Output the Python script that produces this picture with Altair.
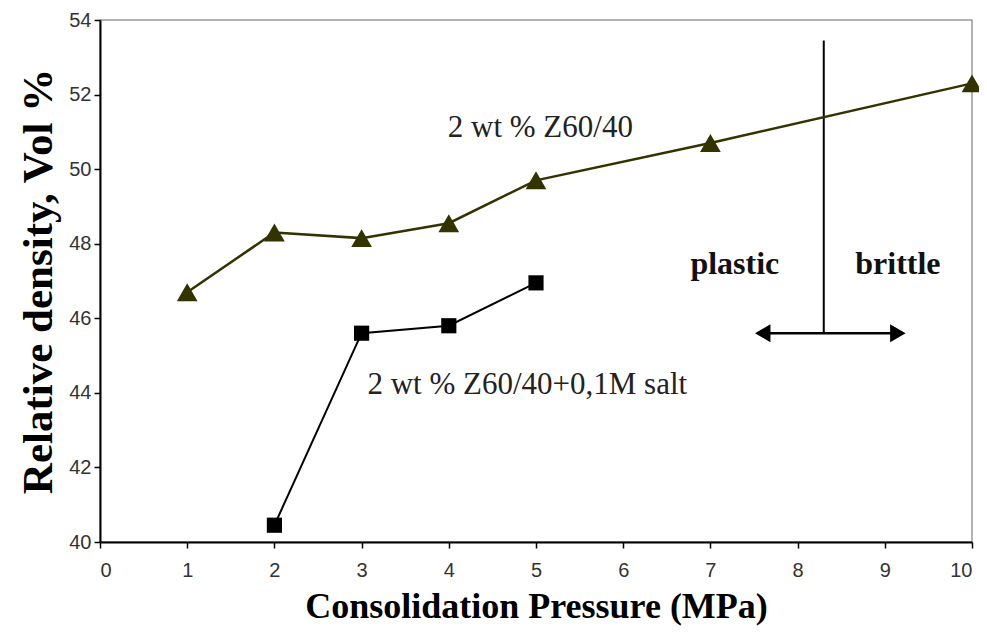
import altair as alt
import pandas as pd

# Data
pressure_z = [1, 2, 3, 4, 5, 7, 10]
density_z = [46.7, 48.3, 48.15, 48.55, 49.7, 50.7, 52.3]
pressure_salt = [2, 3, 4, 5]
density_salt = [40.45, 45.6, 45.8, 46.95]

label_text = ["2 wt % Z60/40", "2 wt % Z60/40+0,1M salt"]
label_x = [5.05, 4.9]
label_y = [51.1, 44.2]

region_text = ["plastic", "brittle"]
region_x = [7.28, 9.15]
region_y = [47.45, 47.45]

divider_x = 8.3
divider_top = 53.45
arrow_y = 45.6
arrow_left = 7.5
arrow_right = 9.25

df_z = pd.DataFrame({"x": pressure_z, "y": density_z})
df_s = pd.DataFrame({"x": pressure_salt, "y": density_salt})
df_lab = pd.DataFrame({"x": label_x, "y": label_y, "t": label_text})
df_reg = pd.DataFrame({"x": region_x, "y": region_y, "t": region_text})
df_div = pd.DataFrame({"x": [divider_x], "y": [arrow_y], "y2": [divider_top]})
df_arr = pd.DataFrame({"x": [arrow_left + 0.05], "x2": [arrow_right - 0.05], "y": [arrow_y]})
df_heads = pd.DataFrame({"x": [arrow_left + 0.1, arrow_right - 0.1], "y": [arrow_y, arrow_y],
                         "s": ["triangle-left", "triangle-right"]})

xs = alt.Scale(domain=[0, 10], nice=False, zero=False)
ys = alt.Scale(domain=[40, 54], nice=False, zero=False)

X = alt.X("x:Q", scale=xs, axis=alt.Axis(
    title="Consolidation Pressure (MPa)", values=list(range(0, 11)), format="d",
    grid=False, domainColor="black", domainWidth=2, tickColor="black", tickSize=6, tickWidth=1.5,
    labelFont="Liberation Sans", labelFontSize=20, labelColor="#333333", labelPadding=12,
    titleFont="Liberation Serif", titleFontSize=36, titleFontWeight="bold", titleColor="black",
    titlePadding=9))
Y = alt.Y("y:Q", scale=ys, axis=alt.Axis(
    title="Relative density, Vol %", values=list(range(40, 55, 2)),
    grid=False, domainColor="black", domainWidth=2, tickColor="black", tickSize=6, tickWidth=1.5,
    labelFont="Liberation Sans", labelFontSize=20, labelColor="#333333", labelPadding=3,
    titleFont="Liberation Serif", titleFontSize=43, titleFontWeight="bold", titleColor="black",
    titlePadding=8))

olive = "#333300"

line_z = alt.Chart(df_z).mark_line(color=olive, strokeWidth=2.5).encode(x=X, y=Y)
pts_z = alt.Chart(df_z).mark_point(shape="triangle-up", filled=True, color=olive, size=430, opacity=1).encode(x="x:Q", y="y:Q")
line_s = alt.Chart(df_s).mark_line(color="black", strokeWidth=2).encode(x="x:Q", y="y:Q")
pts_s = alt.Chart(df_s).mark_point(shape="square", filled=True, color="black", size=230, opacity=1).encode(x="x:Q", y="y:Q")

labels = alt.Chart(df_lab).mark_text(font="Liberation Serif", fontSize=31, color="#222222").encode(
    x="x:Q", y="y:Q", text="t:N")
regions = alt.Chart(df_reg).mark_text(font="Liberation Serif", fontSize=32, fontWeight="bold", color="#111111").encode(
    x="x:Q", y="y:Q", text="t:N")

divider = alt.Chart(df_div).mark_rule(color="black", strokeWidth=2).encode(x="x:Q", y="y:Q", y2="y2:Q")
arrow = alt.Chart(df_arr).mark_rule(color="black", strokeWidth=2.5).encode(x="x:Q", x2="x2:Q", y="y:Q")
heads = alt.Chart(df_heads).mark_point(filled=True, color="black", size=320, opacity=1).encode(
    x="x:Q", y="y:Q", shape=alt.Shape("s:N", scale=None, legend=None))

chart = alt.layer(divider, arrow, heads, line_z, pts_z, line_s, pts_s, labels, regions).properties(
    width=872, height=522,
    padding={"left": 92, "top": 12, "right": 7, "bottom": 87},
    autosize=alt.AutoSizeParams(type="none"),
    background="white",
).configure_view(stroke="#999999", strokeWidth=1.5)

chart.save("out.html", embed_options={"renderer": "svg", "actions": False})
